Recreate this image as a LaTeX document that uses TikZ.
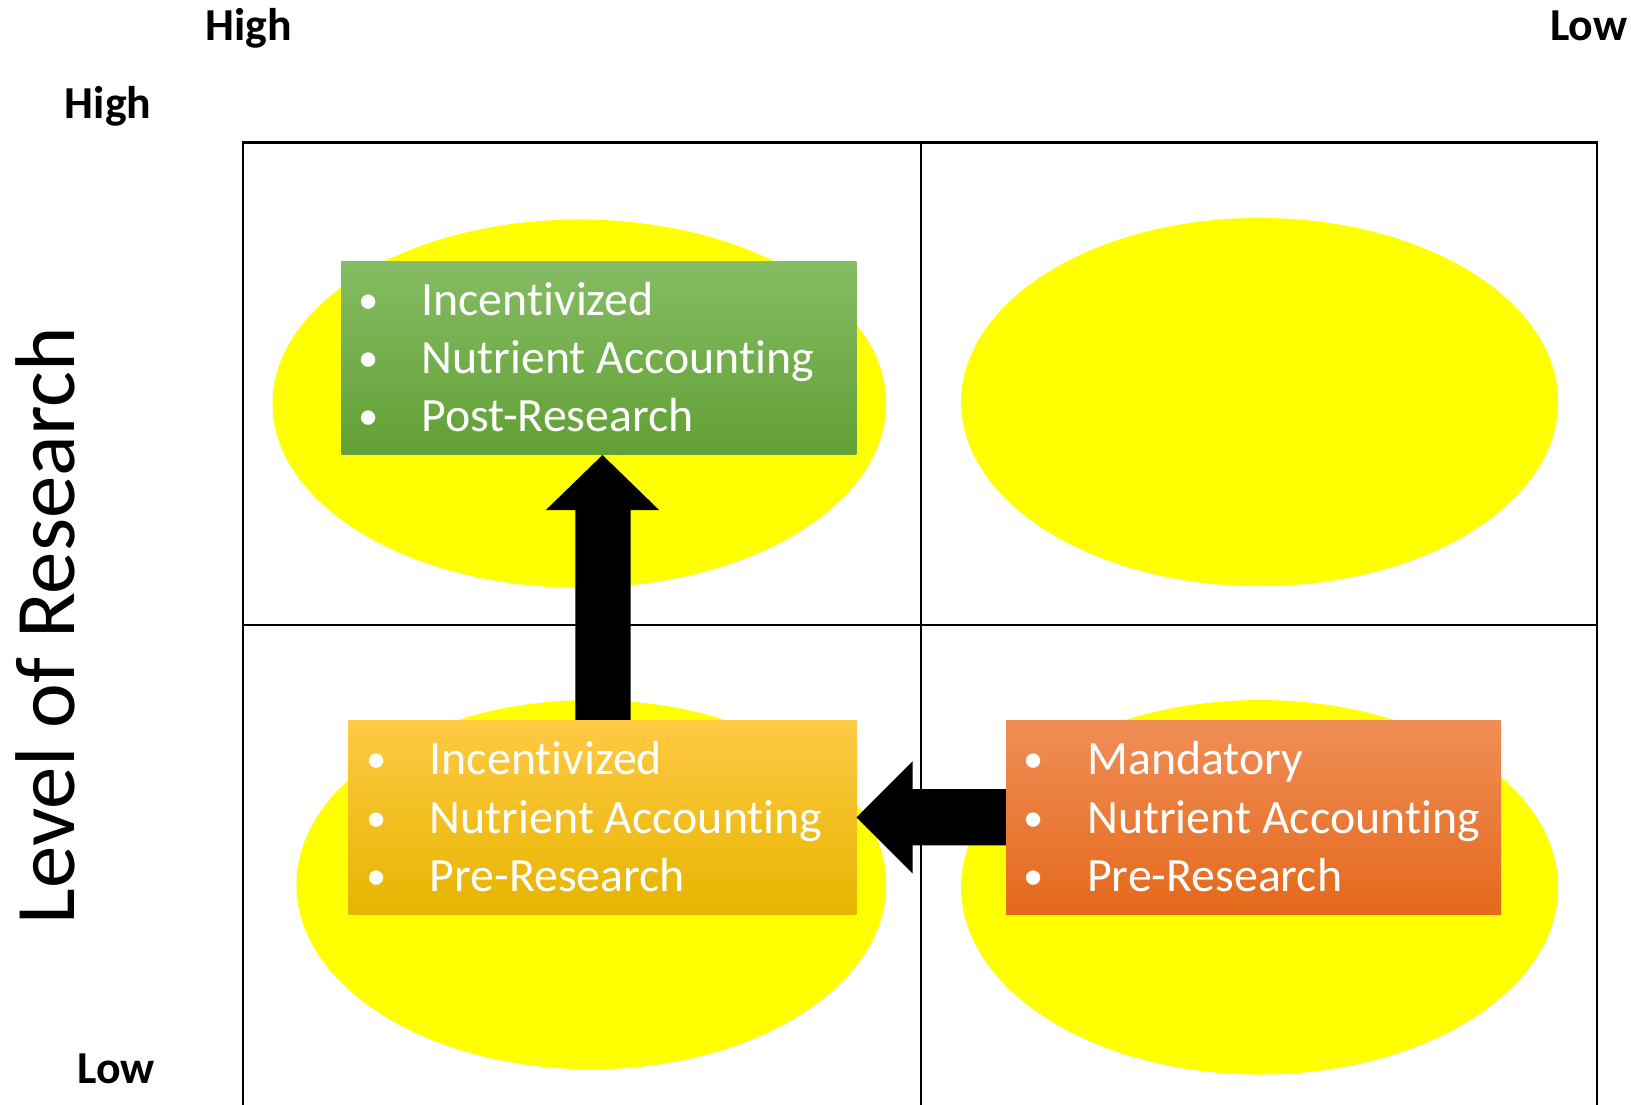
\documentclass[tikz,border=0pt]{standalone}
\usepackage{fontspec}
\setmainfont{Carlito}[Ligatures=NoCommon]
\usetikzlibrary{calc,shapes.geometric}
\definecolor{blobyellow}{HTML}{FFFF00}
\definecolor{greentop}{HTML}{86BC64}
\definecolor{greenbot}{HTML}{61A034}
\definecolor{yellowtop}{HTML}{FFC944}
\definecolor{yellowmid}{HTML}{FFC000}
\definecolor{yellowbot}{HTML}{E6B500}
\definecolor{orangetop}{HTML}{F08E57}
\definecolor{orangebot}{HTML}{E4691B}
\begin{document}
\begin{tikzpicture}[x=1pt,y=-1pt,
  frameline/.style={line width=2pt,black},
  blob/.style={ellipse,fill=blobyellow,draw=none,inner sep=0pt},
  box/.style={rectangle,draw=none,inner sep=0pt,anchor=north west},
  bul/.style={anchor=base,inner sep=0pt,text=white,font=\fontsize{39}{48}\selectfont},
  item/.style={anchor=base west,inner sep=0pt,text=white,font=\fontsize{46}{56}\selectfont},
  axlab/.style={anchor=base,inner sep=0pt,font=\fontsize{44}{52}\selectfont\bfseries},
  arrowfill/.style={fill=black}
]
\useasboundingbox (0,0) rectangle (1568,1062.3);

% frame
\draw[frameline] (234,1062.3) -- (234,137) -- (1535,137) -- (1535,1062.3);
\draw[frameline] (885,137) -- (885,1062.3);
\draw[frameline] (234,601) -- (1535,601);

% ellipses
\node[blob,minimum width=590pt,minimum height=354pt] (e1) at (557,388) {};
\node[blob,minimum width=574pt,minimum height=354pt] (e2) at (1211,386.5) {};
\node[blob,minimum width=567pt,minimum height=355pt] (e3) at (568.5,850.5) {};
\node[blob,minimum width=574pt,minimum height=360pt] (e4) at (1211,853) {};

% boxes
\node[box,top color=greentop,bottom color=greenbot,minimum width=495pt,minimum height=186pt] (gb) at (328,251) {};
\node[box,top color=yellowtop,middle color=yellowmid,bottom color=yellowbot,minimum width=488pt,minimum height=187pt] (yb) at (335,692) {};
\node[box,top color=orangetop,bottom color=orangebot,minimum width=476pt,minimum height=187pt] (ob) at (967,692) {};

% green texts
\node[bul] (g1b) at (354,301) {•};
\node[item] (g1) at (405,303) {Incentivized};
\node[bul] (g2b) at (354,357) {•};
\node[item] (g2) at (405,359) {Nutrient Accounting};
\node[bul] (g3b) at (354,413) {•};
\node[item] (g3) at (405,415) {Post-Research};

% yellow texts
\node[bul] (y1b) at (362,743) {•};
\node[item] (y1) at (413,745) {Incentivized};
\node[bul] (y2b) at (362,799) {•};
\node[item] (y2) at (413,801) {Nutrient Accounting};
\node[bul] (y3b) at (362,855) {•};
\node[item] (y3) at (413,857) {Pre-Research};

% orange texts
\node[bul] (o1b) at (994,743) {•};
\node[item] (o1) at (1045,745) {Mandatory};
\node[bul] (o2b) at (994,799) {•};
\node[item] (o2) at (1045,801) {Nutrient Accounting};
\node[bul] (o3b) at (994,855) {•};
\node[item] (o3) at (1045,857) {Pre-Research};

% arrows
\coordinate (uptip) at (yb.north |- gb.south);
\fill[arrowfill] (uptip) -- ($(uptip)+(54.5,53)$) -- ($(uptip)+(27,53)$)
  -- ($(yb.north)+(27,0)$) -- ($(yb.north)+(-26,0)$)
  -- ($(uptip)+(-26,53)$) -- ($(uptip)+(-54.5,53)$) -- cycle;
\coordinate (lefttip) at (yb.east);
\fill[arrowfill] (lefttip) -- ($(lefttip)+(54,-54)$) -- ($(lefttip)+(54,-27)$)
  -- ($(ob.west)+(0,-27)$) -- ($(ob.west)+(0,27)$)
  -- ($(lefttip)+(54,27)$) -- ($(lefttip)+(54,54)$) -- cycle;

% axis labels
\node[axlab] (hx) at (239,38.5) {High};
\node[axlab] (lx) at (1527.5,38.5) {Low};
\node[axlab] (hy) at (104,113.5) {High};
\node[axlab] (ly) at (111.5,1042) {Low};
\node[anchor=base,inner sep=0pt,rotate=90,font=\fontsize{81.5}{98}\selectfont] (ylab) at (72,601.5) {Level of Research};
\end{tikzpicture}
\end{document}
